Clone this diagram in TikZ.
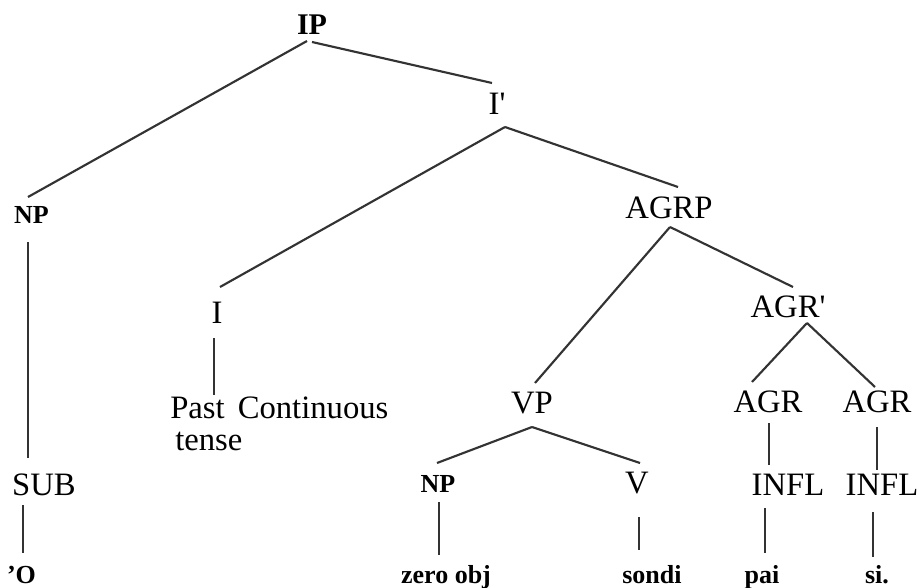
\documentclass[tikz,border=0pt]{standalone}
\usepackage{fontspec}
\setmainfont{Liberation Serif}
\begin{document}
\begin{tikzpicture}[x=0.75pt,y=-0.75pt,
  lab/.style={anchor=base,inner sep=0pt,font=\fontsize{24.5}{25}\selectfont},
  head/.style={anchor=base,inner sep=0pt,font=\fontsize{22.5}{24}\selectfont\bfseries},
  word/.style={anchor=base,inner sep=0pt,font=\fontsize{19.5}{22}\selectfont\bfseries},
  branch/.style={draw=black!80,line width=1.6pt}]
\useasboundingbox (0,0) rectangle (923,588);

% phrase labels
\node[head] (ip)    at (312,35)  {IP};
\node[lab]  (ibar)  at (497,115) {I\textquotesingle};
\node[word] (np)    at (31.5,223) {NP};
\node[lab]  (agrp)  at (669,218) {AGRP};
\node[lab]  (i)     at (217,323) {I};
\node[lab]  (agrbar) at (788,317) {AGR\textquotesingle};
\node[lab,anchor=base west] (past)  at (170,418) {Past\hspace{0.4em}Continuous};
\node[lab,anchor=base west] (tense) at (175,450) {tense};
\node[lab]  (vp)    at (532,413) {VP};
\node[lab]  (agrl)  at (768,412) {AGR};
\node[lab]  (agrr)  at (877,412) {AGR};
\node[lab]  (sub)   at (44,495)  {SUB};
\node[word] (npo)   at (438,492) {NP};
\node[lab]  (v)     at (637,493) {V};
\node[lab]  (infll) at (788,495) {INFL};
\node[lab]  (inflr) at (882,495) {INFL};

% words
\node[word] (o)     at (21.5,583) {’O};
\node[word] (zero)  at (446,583) {zero obj};
\node[word] (sondi) at (652,583) {sondi};
\node[word] (pai)   at (762,583) {pai};
\node[word] (si)    at (877,583) {si.};

% branches
\draw[branch] ([shift={(-5,6)}]ip.base)     -- ([shift={(-3.5,-26)}]np.base);
\draw[branch] ([shift={(0,7)}]ip.base)      -- ([shift={(-5,-32)}]ibar.base);
\draw[branch] ([shift={(8,12)}]ibar.base)   -- ([shift={(3,-36)}]i.base);
\draw[branch] ([shift={(8,12)}]ibar.base)   -- ([shift={(9,-31)}]agrp.base);
\draw[branch] ([shift={(-3.5,19)}]np.base)  -- ([shift={(-16,-37)}]sub.base);
\draw[branch] ([shift={(-21,10)}]sub.base)  -- ([shift={(1.5,-30)}]o.base);
\draw[branch] ([shift={(-3,15)}]i.base)     -- ([shift={(44,-23)}]past.base west);
\draw[branch] ([shift={(1,9)}]agrp.base)    -- ([shift={(3,-30)}]vp.base);
\draw[branch] ([shift={(1,9)}]agrp.base)    -- ([shift={(5,-30)}]agrbar.base);
\draw[branch] ([shift={(19,6)}]agrbar.base) -- ([shift={(-16,-30)}]agrl.base);
\draw[branch] ([shift={(19,6)}]agrbar.base) -- ([shift={(-2,-25)}]agrr.base);
\draw[branch] ([shift={(1,11)}]agrl.base)   -- ([shift={(-19,-30)}]infll.base);
\draw[branch] ([shift={(0,15)}]agrr.base)   -- ([shift={(-5,-25)}]inflr.base);
\draw[branch] ([shift={(-23,13)}]infll.base) -- ([shift={(3,-30)}]pai.base);
\draw[branch] ([shift={(-9,17)}]inflr.base) -- ([shift={(-4,-26)}]si.base);
\draw[branch] ([shift={(0,14)}]vp.base)     -- ([shift={(-1,-29)}]npo.base);
\draw[branch] ([shift={(0,14)}]vp.base)     -- ([shift={(3,-30)}]v.base);
\draw[branch] ([shift={(1,10)}]npo.base)    -- ([shift={(-7,-28)}]zero.base);
\draw[branch] ([shift={(2,24)}]v.base)      -- ([shift={(-13,-33)}]sondi.base);
\end{tikzpicture}
\end{document}
